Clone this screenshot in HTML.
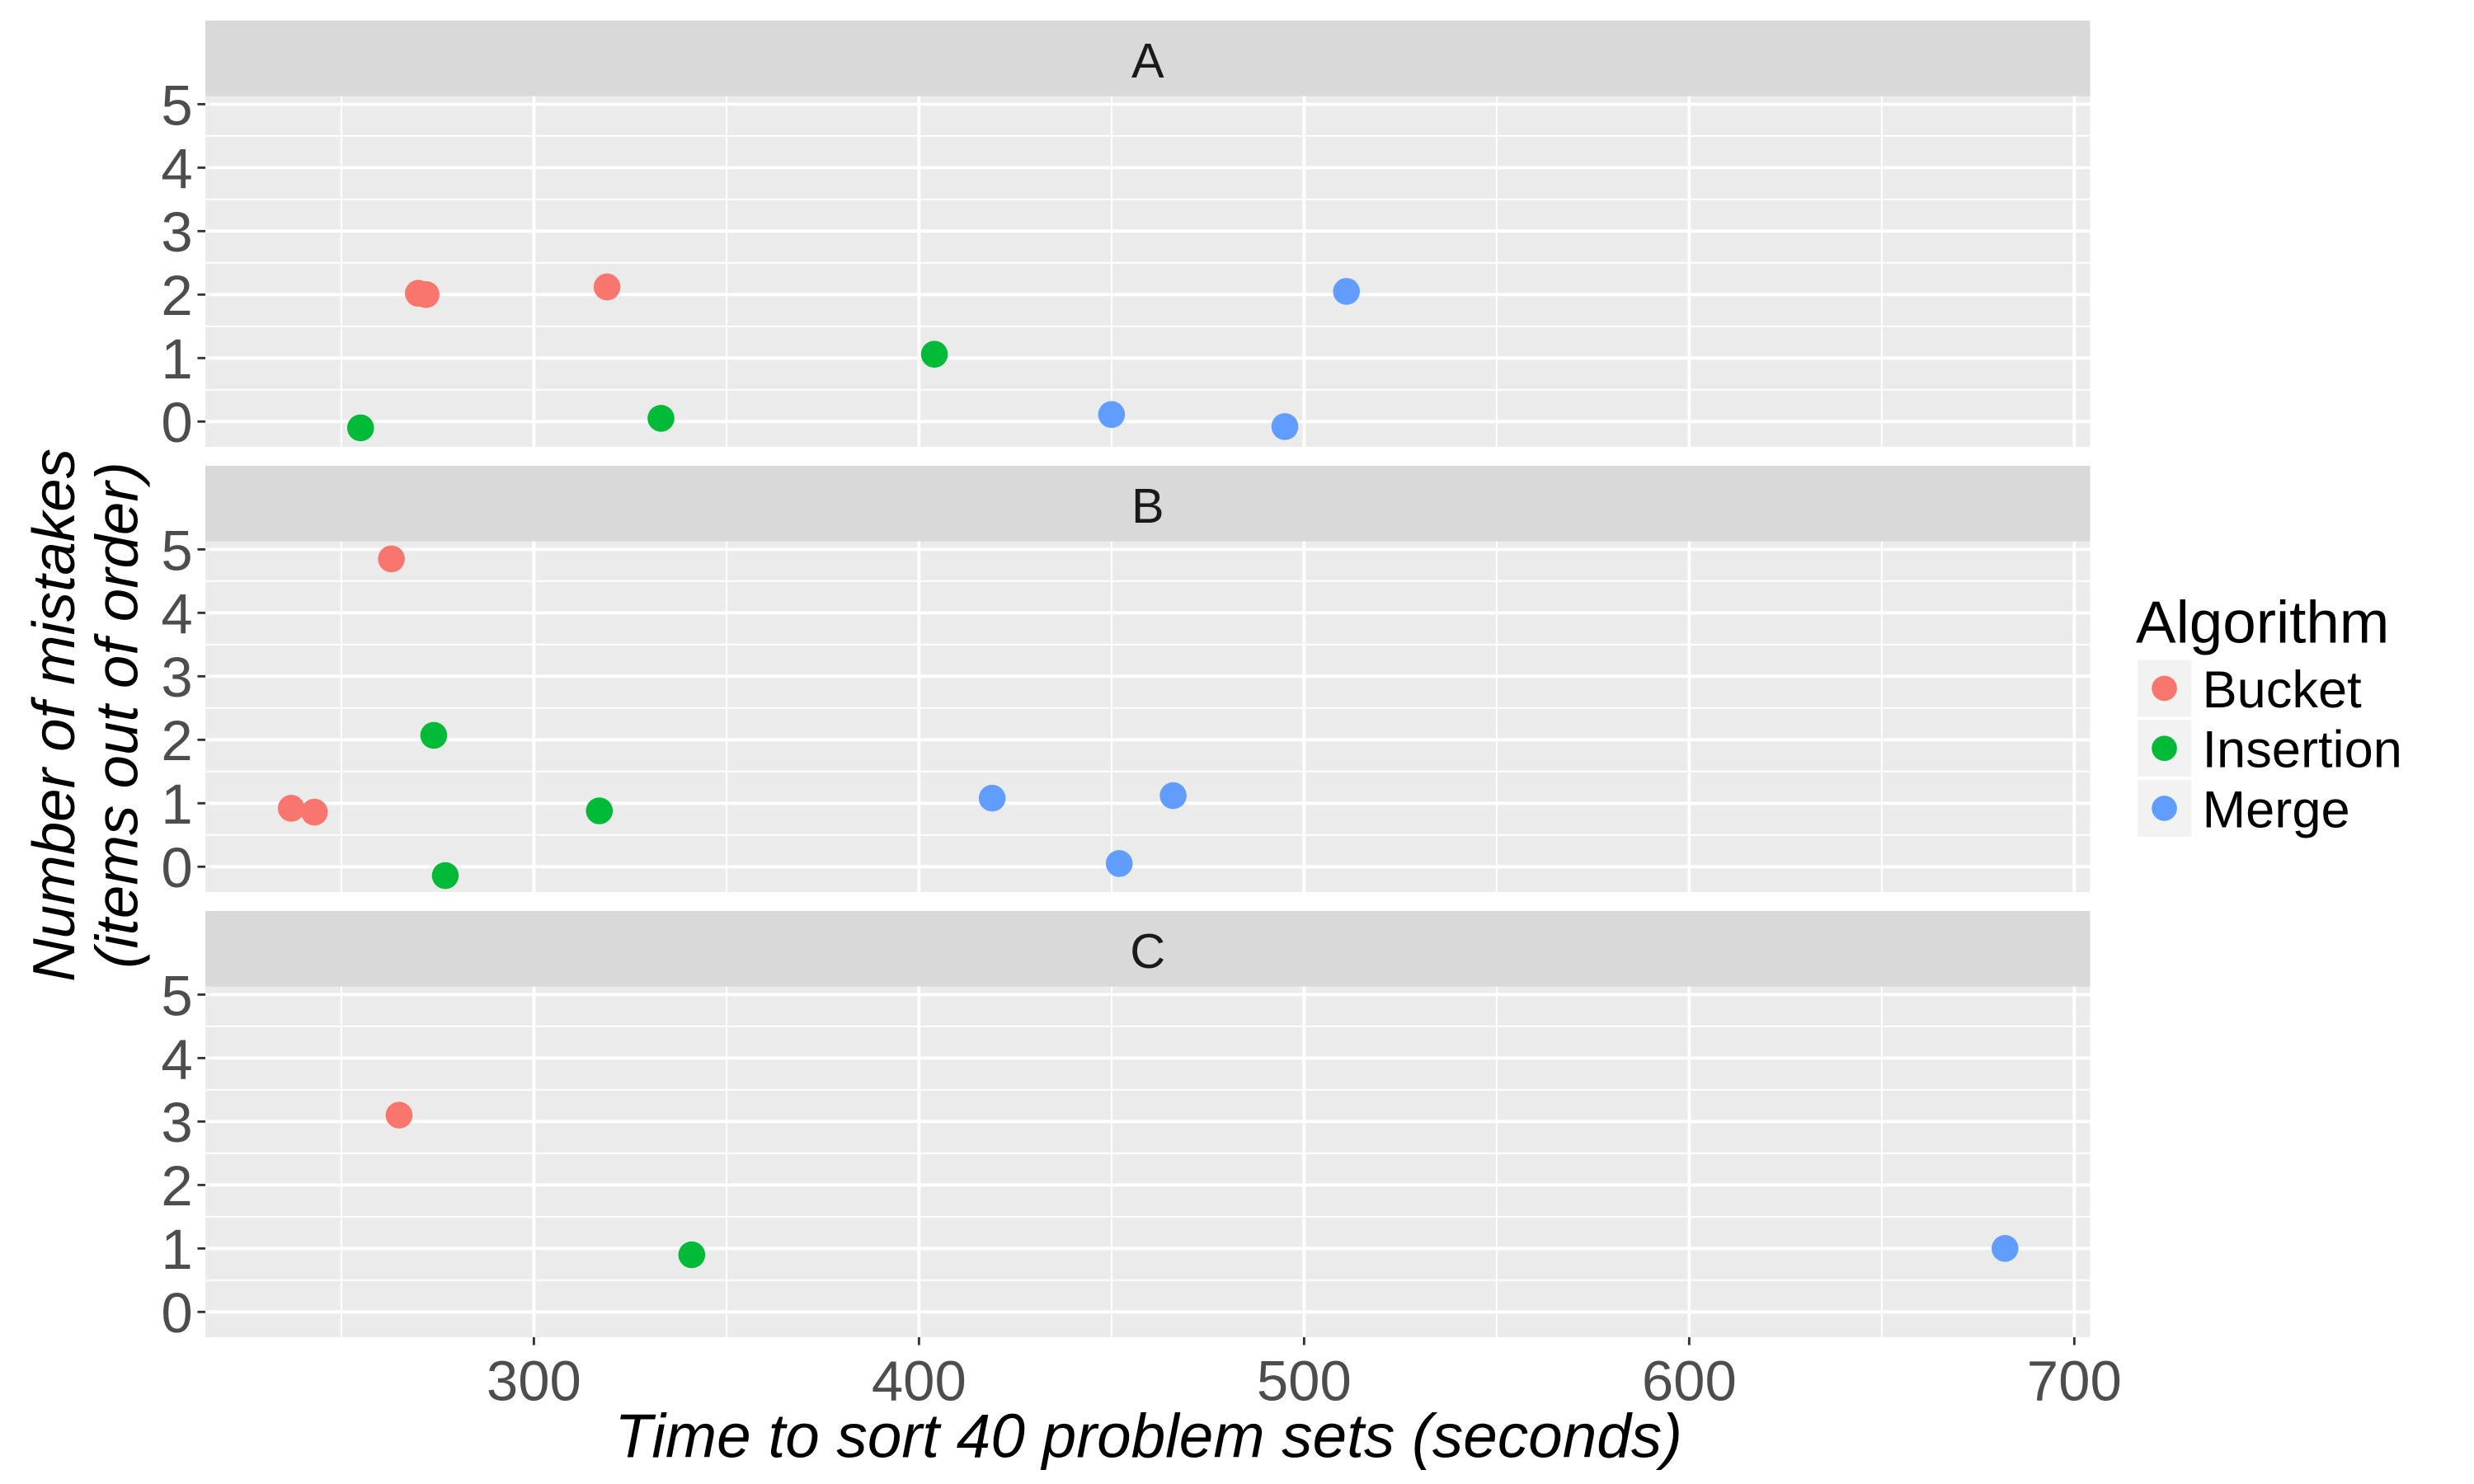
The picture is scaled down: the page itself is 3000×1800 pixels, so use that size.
<!DOCTYPE html>
<html><head><meta charset="utf-8"><style>
html,body{margin:0;padding:0;background:#fff;}
svg{display:block;font-family:"Liberation Sans",sans-serif;}
</style></head><body>
<svg id="chart" width="3000" height="1800" viewBox="0 0 1566 940" preserveAspectRatio="none" xmlns="http://www.w3.org/2000/svg"></svg>
<script>
const panels = ["A","B","C"];
const algorithms = ["Bucket","Insertion","Merge"];
const colors = ["#F8766D","#00BA38","#619CFF"];
const xTicks = [300,400,500,600,700];
const yTicks = [0,1,2,3,4,5];
const panelA_time = [270,272,319,255,333,404,450,495,511];
const panelA_mistakes = [2.02,2.0,2.12,-0.1,0.05,1.06,0.11,-0.08,2.05];
const panelA_alg = [0,0,0,1,1,1,2,2,2];
const panelB_time = [263,237,243,274,317,277,419,466,452];
const panelB_mistakes = [4.85,0.92,0.86,2.07,0.88,-0.14,1.08,1.12,0.05];
const panelB_alg = [0,0,0,1,1,1,2,2,2];
const panelC_time = [265,341,682];
const panelC_mistakes = [3.1,0.9,1.0];
const panelC_alg = [0,1,2];
const panelData = [[panelA_time,panelA_mistakes,panelA_alg],[panelB_time,panelB_mistakes,panelB_alg],[panelC_time,panelC_mistakes,panelC_alg]];

const NS="http://www.w3.org/2000/svg";
const svg=document.getElementById('chart');
function mk(tag,attrs,parent){const e=document.createElementNS(NS,tag);for(const k in attrs)e.setAttribute(k,attrs[k]);(parent||svg).appendChild(e);return e;}
const L=130,R=1323,xmin=214.7,xmax=704.1;
const xs=v=>L+(v-xmin)/(xmax-xmin)*(R-L);
const stripTops=[13,295,577];
for(let p=0;p<3;p++){
  const st=stripTops[p], top=st+48, bot=top+222;
  const y0=top+206, unit=40.2;
  const ys=v=>y0-v*unit;
  const g=mk('g',{});
  
  
  const strip=mk('rect',{x:L,y:st,width:R-L,height:48,fill:'#D9D9D9'},g);
  
  
  const st_t=mk('text',{x:(L+R)/2,y:st+36,'text-anchor':'middle','font-size':31,fill:'#1A1A1A'},g);
  st_t.textContent=panels[p];
  
  
  const bg=mk('rect',{x:L,y:top,width:R-L,height:bot-top,fill:'#EBEBEB'},g);
  
  
  for(let v=-0.5;v<=5.5;v+=1){const y=ys(v);if(y>top&&y<bot)mk('line',{x1:L,x2:R,y1:y,y2:y,stroke:'#fff','stroke-width':1},g);}
  for(let v=250;v<=700;v+=100)mk('line',{x1:xs(v),x2:xs(v),y1:top,y2:bot,stroke:'#fff','stroke-width':1},g);
  yTicks.forEach(v=>{const y=ys(v);mk('line',{x1:L,x2:R,y1:y,y2:y,stroke:'#fff','stroke-width':2},g);
    mk('line',{x1:L-5,x2:L,y1:y,y2:y,stroke:'#333','stroke-width':1.5},g);
    const t=mk('text',{x:L-8,y:y+13,'text-anchor':'end','font-size':36,fill:'#4D4D4D'},g);t.textContent=v;
    
    });
  xTicks.forEach(v=>mk('line',{x1:xs(v),x2:xs(v),y1:top,y2:bot,stroke:'#fff','stroke-width':2},g));
  const [tx,ty,ta]=panelData[p];
  for(let i=0;i<tx.length;i++){
    const c=mk('circle',{cx:xs(tx[i]),cy:ys(ty[i]),r:8.5,fill:colors[ta[i]]},g);
    
    
  }
  if(p===2){
    xTicks.forEach(v=>{mk('line',{x1:xs(v),x2:xs(v),y1:bot,y2:bot+5,stroke:'#333','stroke-width':1.5},g);
      const t=mk('text',{x:xs(v),y:bot+40,'text-anchor':'middle','font-size':36,fill:'#4D4D4D'},g);t.textContent=v;
      
      });
  }
}
const xt=mk('text',{x:727,y:923,'text-anchor':'middle','font-size':39,'font-style':'italic',fill:'#000'});
xt.textContent='Time to sort 40 problem sets (seconds)';


const ytg=mk('text',{transform:'translate(47,453) rotate(-90)','text-anchor':'middle','font-size':38,'font-style':'italic',fill:'#000'});


const s1=mk('tspan',{x:0,dy:0},ytg);s1.textContent='Number of mistakes';
const s2=mk('tspan',{x:0,dy:40},ytg);s2.textContent='(items out of order)';
const lg=mk('g',{});


const lt=mk('text',{x:1352,y:407,'font-size':38,fill:'#000'},lg);lt.textContent='Algorithm';


algorithms.forEach((a,i)=>{
  const cy=436+i*38;
  const e=mk('g',{},lg);
  
  
  mk('rect',{x:1353,y:cy-18,width:34,height:36,fill:'#F2F2F2'},e);
  mk('circle',{cx:1370,cy:cy,r:8,fill:colors[i]},e);
  const t=mk('text',{x:1394,y:cy+12,'font-size':33,fill:'#000'},e);t.textContent=a;
});
</script>
</body></html>
